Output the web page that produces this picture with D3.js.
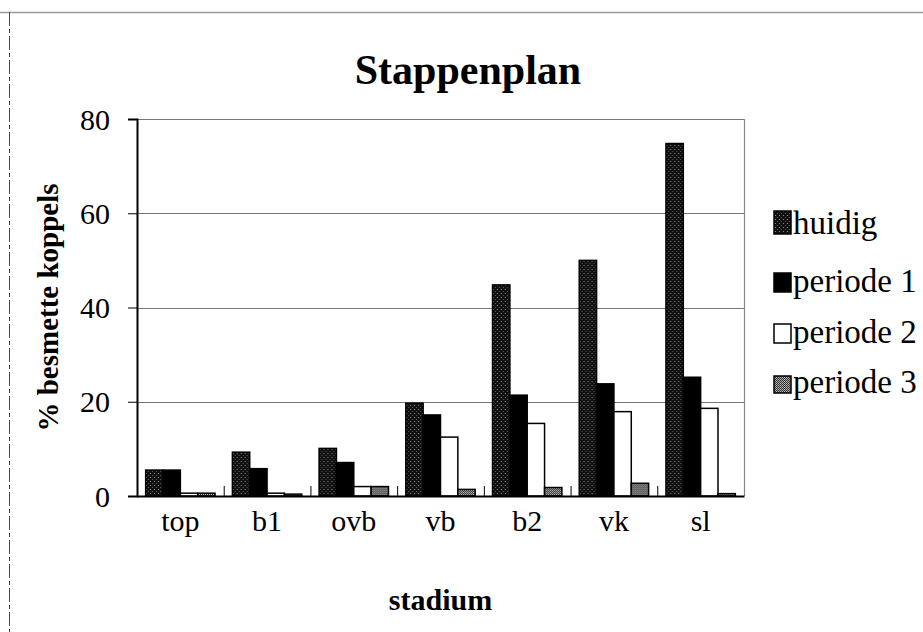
<!DOCTYPE html>
<html>
<head>
<meta charset="utf-8">
<script src="https://cdn.jsdelivr.net/npm/d3@7"></script>
<style>
  html, body { margin: 0; padding: 0; background: #fff; }
  svg { display: block; font-family: "Liberation Serif", "DejaVu Serif", serif; }
</style>
</head>
<body>
<div id="chart"></div>
<script>
// stadia en reeksen
const categories = ["top", "b1", "ovb", "vb", "b2", "vk", "sl"];
const seriesNames = ["huidig", "periode 1", "periode 2", "periode 3"];
const huidig   = [5.5, 9.3, 10.1, 19.7, 44.8, 50.0, 74.8];
const periode1 = [5.5, 5.8, 7.1, 17.2, 21.4, 23.8, 25.2];
const periode2 = [0.6, 0.6, 2.0, 12.5, 15.4, 17.9, 18.6];
const periode3 = [0.6, 0.4, 2.0, 1.4, 1.8, 2.7, 0.5];
const yTicks = [0, 20, 40, 60, 80];

const W = 923, H = 632;
const m = { t: 119, r: 179, b: 136, l: 137 };

const svg = d3.select("#chart").append("svg").attr("width", W).attr("height", H);

// textuur-patronen
const defs = svg.append("defs");
const pDark = defs.append("pattern").attr("id", "pDark")
  .attr("width", 4).attr("height", 4).attr("patternUnits", "userSpaceOnUse");
pDark.append("rect").attr("width", 4).attr("height", 4).attr("fill", "#111");
pDark.append("rect").attr("x", 1).attr("y", 1).attr("width", 1).attr("height", 1).attr("fill", "#8a8a8a");
pDark.append("rect").attr("x", 3).attr("y", 3).attr("width", 1).attr("height", 1).attr("fill", "#555");
const pGray = defs.append("pattern").attr("id", "pGray")
  .attr("width", 2).attr("height", 2).attr("patternUnits", "userSpaceOnUse");
pGray.append("rect").attr("width", 2).attr("height", 2).attr("fill", "#333");
pGray.append("rect").attr("width", 1).attr("height", 1).attr("fill", "#bbb");
pGray.append("rect").attr("x", 1).attr("y", 1).attr("width", 1).attr("height", 1).attr("fill", "#999");

const fills = ["url(#pDark)", "#000", "#fff", "url(#pGray)"];
const values = [huidig, periode1, periode2, periode3];

// buitenrand
svg.append("line").attr("x1", 0).attr("x2", W).attr("y1", 12.5).attr("y2", 12.5)
  .attr("stroke", "#999").attr("stroke-width", 1.5);
svg.append("line").attr("x1", 9.5).attr("x2", 9.5).attr("y1", 12).attr("y2", H)
  .attr("stroke", "#444").attr("stroke-width", 1).attr("stroke-dasharray", "14,3,4,3");

const x0 = d3.scaleBand().domain(categories).range([m.l, W - m.r]).paddingInner(0).paddingOuter(0);
const x1 = d3.scaleBand().domain(seriesNames).range([0, x0.bandwidth()]).paddingOuter(0.5).paddingInner(0);
const y = d3.scaleLinear().domain([0, 80]).range([H - m.b, m.t]);

// rasterlijnen
svg.append("g").selectAll("line").data(yTicks.filter(d => d > 0)).join("line")
  .attr("x1", m.l).attr("x2", W - m.r)
  .attr("y1", d => Math.round(y(d)) + 0.5).attr("y2", d => Math.round(y(d)) + 0.5)
  .attr("stroke", "#777").attr("stroke-width", 1.2);
svg.append("line").attr("x1", W - m.r + 0.5).attr("x2", W - m.r + 0.5)
  .attr("y1", m.t).attr("y2", H - m.b).attr("stroke", "#888").attr("stroke-width", 1.2);

// staven
const rows = categories.map((c, i) => ({ c, v: values.map((s, k) => ({ k, v: s[i] })) }));
svg.append("g").selectAll("g").data(rows).join("g")
  .attr("transform", d => `translate(${x0(d.c)},0)`)
  .selectAll("rect").data(d => d.v).join("rect")
  .attr("x", d => x1(seriesNames[d.k]))
  .attr("y", d => y(d.v))
  .attr("width", x1.bandwidth())
  .attr("height", d => y(0) - y(d.v))
  .attr("fill", d => fills[d.k])
  .attr("stroke", "#000").attr("stroke-width", 1.5);

// assen
const yAxis = svg.append("g").attr("transform", `translate(${m.l},0)`)
  .call(d3.axisLeft(y).tickValues(yTicks).tickSize(9).tickPadding(18));
const xAxis = svg.append("g").attr("transform", `translate(0,${H - m.b})`)
  .call(d3.axisBottom(x0).tickSize(0).tickPadding(9));
[yAxis, xAxis].forEach(a => {
  a.select(".domain").attr("stroke", "#000").attr("stroke-width", 2);
  a.selectAll("line").attr("stroke", "#000");
  a.selectAll("text").attr("font-family", "Liberation Serif, serif").attr("font-size", 30).attr("fill", "#000");
});
yAxis.selectAll("text").attr("dy", "0.34em");
xAxis.selectAll("text").attr("dy", "0.85em");
// scheidingsstreepjes tussen stadia (naar binnen)
svg.append("g").selectAll("line").data(categories.slice(1)).join("line")
  .attr("x1", d => x0(d) + 0.5).attr("x2", d => x0(d) + 0.5)
  .attr("y1", H - m.b).attr("y2", H - m.b - 10)
  .attr("stroke", "#000").attr("stroke-width", 1);

// titels
svg.append("text").attr("x", 468).attr("y", 84).attr("text-anchor", "middle")
  .attr("font-weight", "bold").attr("font-size", 42).text("Stappenplan");
svg.append("text").attr("x", (m.l + W - m.r) / 2).attr("y", 610).attr("text-anchor", "middle")
  .attr("font-weight", "bold").attr("font-size", 30).text("stadium");
svg.append("text").attr("transform", `translate(58,${(m.t + H - m.b) / 2}) rotate(-90)`)
  .attr("text-anchor", "middle").attr("font-weight", "bold").attr("font-size", 29)
  .text("% besmette koppels");

// legenda
const leg = svg.append("g").attr("transform", "translate(774,0)");
const legY = [234, 292, 343, 393];
const legH = [23, 19, 19, 17];
const li = leg.selectAll("g").data(seriesNames).join("g")
  .attr("transform", (d, i) => `translate(0,${legY[i]})`);
li.append("rect").attr("x", 0).attr("y", (d, i) => -legH[i]).attr("width", 17).attr("height", (d, i) => legH[i])
  .attr("fill", (d, i) => fills[i]).attr("stroke", "#000").attr("stroke-width", 1.5);
li.append("text").attr("x", 19).attr("y", 0).attr("font-size", 33).text(d => d);
</script>
</body>
</html>
